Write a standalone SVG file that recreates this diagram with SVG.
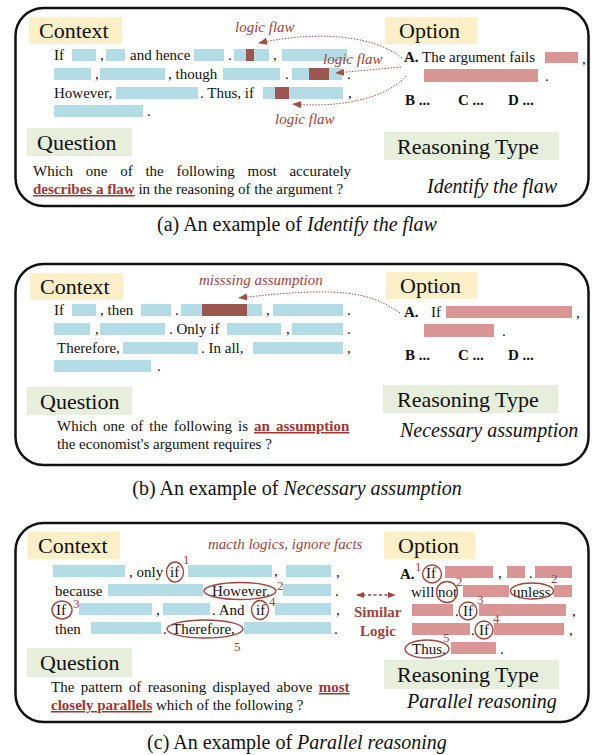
<svg xmlns="http://www.w3.org/2000/svg" width="594" height="755" viewBox="0 0 594 755" font-family="'Liberation Serif', 'Times New Roman', 'DejaVu Serif', serif">
<defs>
<style>
text{font-family:"Liberation Serif","Times New Roman","DejaVu Serif",serif;fill:#111}
.t{font-size:15px}
.bd{font-weight:bold}
.lbl{font-size:22px}
.it{font-style:italic}
.rt{font-size:20px;font-style:italic}
.cap{font-size:20px}
.red{fill:#A0443E}
.rl{font-size:15px;font-style:italic;fill:#A0443E}
.sup{font-size:13px;fill:#A0443E}
.ul{font-weight:bold;fill:#A0362F;text-decoration:underline}
.frame{fill:none;stroke:#111;stroke-width:2.5}
.yl{fill:#FDEFC8}
.gl{fill:#E7EFDC}
.b{fill:#B4DCE6}
.p{fill:#D99694}
.d{fill:#9C5650}
.c{fill:none;stroke:#A0443E;stroke-width:1.4}
.ar{fill:none;stroke:#A0504A;stroke-width:1;stroke-dasharray:1.5 1.5}
.ar2{fill:none;stroke:#A0443E;stroke-width:1.6;stroke-dasharray:3 2.5}
</style>
<marker id="ah" viewBox="0 0 10 10" refX="9" refY="5" markerWidth="9" markerHeight="9" orient="auto" markerUnits="userSpaceOnUse">
<path d="M0 1 L10 5 L0 9 Z" fill="#A0504A"/>
</marker>
<marker id="ah2" viewBox="0 0 10 10" refX="9" refY="5" markerWidth="8" markerHeight="8" orient="auto-start-reverse" markerUnits="userSpaceOnUse">
<path d="M0 1 L10 5 L0 9 Z" fill="#A0443E"/>
</marker>
</defs>

<!-- ===== Panel (a) ===== -->
<g id="panel-a">
<rect class="frame" x="15.5" y="8" width="573" height="198" rx="28"/>
<g id="a-context">
<rect class="yl" x="29" y="17" width="93" height="27"/>
<text class="lbl" x="39" y="38">Context</text>
<text class="t" x="54" y="60">If</text>
<rect class="b" x="72" y="49" width="24" height="12"/>
<text class="t" x="100" y="60">,</text>
<rect class="b" x="106" y="49" width="19" height="12"/>
<text class="t" x="130" y="60">and hence</text>
<rect class="b" x="194" y="49" width="30" height="12"/>
<text class="t" x="228" y="60">.</text>
<rect class="b" x="234" y="49" width="35" height="12"/>
<rect class="d" x="246" y="49" width="8" height="12"/>
<text class="t" x="273" y="60">,</text>
<rect class="b" x="282" y="49" width="65" height="12"/>
<rect class="b" x="54" y="68" width="37" height="12"/>
<text class="t" x="95" y="79">,</text>
<rect class="b" x="100" y="68" width="65" height="12"/>
<text class="t" x="168" y="79">, though</text>
<rect class="b" x="223" y="68" width="57" height="12"/>
<text class="t" x="285" y="79">.</text>
<rect class="b" x="292" y="68" width="50" height="12"/>
<rect class="d" x="309" y="68" width="20" height="12"/>
<text class="t" x="347" y="79">.</text>
<text class="t" x="54" y="98">However,</text>
<rect class="b" x="116" y="87" width="82" height="12"/>
<text class="t" x="200" y="98">. Thus, if</text>
<rect class="b" x="263" y="87" width="80" height="12"/>
<rect class="d" x="275" y="87" width="14" height="12"/>
<text class="t" x="348" y="98">,</text>
<rect class="b" x="54" y="105" width="89" height="12"/>
<text class="t" x="147" y="116">.</text>
<text class="rl" x="235" y="32">logic flaw</text>
<text class="rl" x="323" y="64">logic flaw</text>
<text class="rl" x="275" y="124">logic flaw</text>
</g>
<g id="a-option">
<rect class="yl" x="385" y="17" width="92" height="27"/>
<text class="lbl" x="399" y="38">Option</text>
<text class="t bd" x="404" y="62">A.</text>
<text class="t" x="422" y="62">The argument fails</text>
<rect class="p" x="545" y="52" width="33" height="11"/>
<text class="t" x="582" y="64">,</text>
<rect class="p" x="424" y="69" width="114" height="13"/>
<text class="t" x="545" y="81">.</text>
<text class="t bd" x="405" y="105">B ...</text>
<text class="t bd" x="458" y="105">C ...</text>
<text class="t bd" x="508" y="105">D ...</text>
</g>
<g id="a-question">
<rect class="gl" x="27" y="128" width="105" height="28"/>
<text class="lbl" x="37" y="150">Question</text>
<text class="t" x="33" y="176" word-spacing="9">Which one of the following most accurately</text>
<text class="t" x="33" y="194"><tspan class="ul">describes a flaw</tspan> in the reasoning of the argument ?</text>
</g>
<g id="a-type">
<rect class="gl" x="384" y="132" width="175" height="28"/>
<text class="lbl" x="397" y="154">Reasoning Type</text>
<text class="rt" x="427" y="193">Identify the flaw</text>
</g>
<text class="cap" x="297" y="231" text-anchor="middle">(a) An example of <tspan class="it">Identify the flaw</tspan></text>
</g>

<!-- ===== Panel (b) ===== -->
<g id="panel-b">
<rect class="frame" x="15.5" y="264" width="573" height="201" rx="28"/>
<g id="b-context">
<rect class="yl" x="30" y="273" width="93" height="27"/>
<text class="lbl" x="40" y="294">Context</text>
<text class="t" x="54" y="315">If</text>
<rect class="b" x="72" y="304" width="24" height="12"/>
<text class="t" x="100" y="315">, then</text>
<rect class="b" x="141" y="304" width="30" height="12"/>
<text class="t" x="175" y="315">.</text>
<rect class="b" x="181" y="304" width="81" height="12"/>
<rect class="d" x="202" y="304" width="45" height="12"/>
<text class="t" x="266" y="315">,</text>
<rect class="b" x="273" y="304" width="70" height="12"/>
<text class="t" x="347" y="315">.</text>
<rect class="b" x="54" y="323" width="36" height="12"/>
<text class="t" x="95" y="334">,</text>
<rect class="b" x="100" y="323" width="65" height="12"/>
<text class="t" x="169" y="334">. Only if</text>
<rect class="b" x="227" y="323" width="54" height="12"/>
<text class="t" x="286" y="334">,</text>
<rect class="b" x="292" y="323" width="51" height="12"/>
<text class="t" x="347" y="334">.</text>
<text class="t" x="57" y="353">Therefore,</text>
<rect class="b" x="123" y="342" width="75" height="12"/>
<text class="t" x="201" y="353">. In all,</text>
<rect class="b" x="253" y="342" width="90" height="12"/>
<text class="t" x="347" y="353">,</text>
<rect class="b" x="54" y="360" width="97" height="12"/>
<text class="t" x="157" y="371">.</text>
<text class="rl" x="199" y="285">misssing assumption</text>
</g>
<g id="b-option">
<rect class="yl" x="386" y="272" width="91" height="27"/>
<text class="lbl" x="400" y="293">Option</text>
<text class="t bd" x="404" y="317">A.</text>
<text class="t" x="431" y="317">If</text>
<rect class="p" x="446" y="306" width="126" height="12"/>
<text class="t" x="576" y="318">,</text>
<rect class="p" x="424" y="324" width="70" height="13"/>
<text class="t" x="502" y="336">.</text>
<text class="t bd" x="405" y="360">B ...</text>
<text class="t bd" x="458" y="360">C ...</text>
<text class="t bd" x="508" y="360">D ...</text>
</g>
<g id="b-question">
<rect class="gl" x="27" y="387" width="105" height="28"/>
<text class="lbl" x="40" y="409">Question</text>
<text class="t" x="57" y="431" word-spacing="2.3">Which one of the following is <tspan class="ul">an assumption</tspan></text>
<text class="t" x="57" y="449">the economist's argument requires ?</text>
</g>
<g id="b-type">
<rect class="gl" x="383" y="385" width="175" height="28"/>
<text class="lbl" x="397" y="407">Reasoning Type</text>
<text class="rt" x="400" y="437">Necessary assumption</text>
</g>
<text class="cap" x="297" y="495" text-anchor="middle">(b) An example of <tspan class="it">Necessary assumption</tspan></text>
</g>

<!-- ===== Panel (c) ===== -->
<g id="panel-c">
<rect class="frame" x="15.5" y="523" width="573" height="199" rx="28"/>
<g id="c-context">
<rect class="yl" x="28" y="532" width="92" height="27"/>
<text class="lbl" x="38" y="553">Context</text>
<text class="rl" x="208" y="549" font-size="14.5">macth logics, ignore facts</text>
<rect class="b" x="53" y="565" width="72" height="12"/>
<text class="t" x="129" y="577">, only</text>
<text class="t" x="170" y="577">if</text>
<ellipse class="c" cx="175" cy="572" rx="8.5" ry="10"/>
<text class="sup" x="183" y="564">1</text>
<rect class="b" x="188" y="565" width="84" height="12"/>
<text class="t" x="274" y="576">,</text>
<rect class="b" x="286" y="565" width="45" height="12"/>
<text class="t" x="336" y="577">,</text>
<text class="t" x="55" y="596">because</text>
<rect class="b" x="108" y="584" width="95" height="12"/>
<text class="t" x="212" y="596">However.</text>
<ellipse class="c" cx="240" cy="591" rx="36" ry="8.5"/>
<text class="sup" x="277" y="590">2</text>
<rect class="b" x="283" y="584" width="48" height="12"/>
<text class="t" x="335" y="596">.</text>
<text class="t" x="56" y="615">If</text>
<ellipse class="c" cx="62" cy="610" rx="10" ry="9"/>
<text class="sup" x="73" y="608">3</text>
<rect class="b" x="79" y="603" width="73" height="12"/>
<text class="t" x="156" y="615">,</text>
<rect class="b" x="163" y="603" width="47" height="12"/>
<text class="t" x="212" y="615">. And</text>
<text class="t" x="256" y="615">if</text>
<ellipse class="c" cx="260" cy="610" rx="8.5" ry="9.5"/>
<text class="sup" x="269" y="606">4</text>
<rect class="b" x="275" y="603" width="56" height="12"/>
<text class="t" x="336" y="615">,</text>
<text class="t" x="55" y="634">then</text>
<rect class="b" x="91" y="622" width="70" height="12"/>
<text class="t" x="163" y="634">.</text>
<text class="t" x="172" y="634">Therefore,</text>
<ellipse class="c" cx="205" cy="629" rx="38" ry="9"/>
<text class="sup" x="234" y="651">5</text>
<rect class="b" x="244" y="622" width="87" height="12"/>
<text class="t" x="334" y="634">.</text>
</g>
<g id="c-similar">
<text class="t bd red" x="354" y="617" font-size="14.5">Similar</text>
<text class="t bd red" x="360" y="636" font-size="14.5">Logic</text>
</g>
<g id="c-option">
<rect class="yl" x="384" y="532" width="91" height="27"/>
<text class="lbl" x="398" y="553">Option</text>
<text class="t bd" x="400" y="579">A.</text>
<text class="sup" x="415" y="571">1</text>
<text class="t" x="426" y="578">If</text>
<ellipse class="c" cx="432" cy="574" rx="9.5" ry="9"/>
<rect class="p" x="445" y="566" width="48" height="12"/>
<text class="t" x="498" y="578">,</text>
<rect class="p" x="507" y="566" width="18" height="12"/>
<text class="t" x="529" y="578">.</text>
<rect class="p" x="535" y="566" width="37" height="12"/>
<text class="sup" x="551" y="583">2</text>
<text class="t" x="411" y="597">will</text>
<text class="t" x="438" y="597">not</text>
<ellipse class="c" cx="447" cy="592" rx="10.5" ry="10.5"/>
<text class="sup" x="456" y="586">2</text>
<rect class="p" x="463" y="585" width="46" height="12"/>
<text class="t" x="513" y="597">unless</text>
<ellipse class="c" cx="532" cy="591" rx="21.5" ry="8"/>
<rect class="p" x="554" y="585" width="18" height="12"/>
<rect class="p" x="412" y="604" width="41" height="12"/>
<text class="t" x="455" y="616">.</text>
<text class="t" x="463" y="616">If</text>
<ellipse class="c" cx="468" cy="611" rx="9" ry="9"/>
<text class="sup" x="477" y="604">3</text>
<rect class="p" x="479" y="604" width="87" height="12"/>
<text class="t" x="572" y="616">,</text>
<rect class="p" x="412" y="623" width="58" height="12"/>
<text class="t" x="471" y="635">.</text>
<text class="t" x="479" y="635">If</text>
<ellipse class="c" cx="484" cy="630" rx="9" ry="9"/>
<text class="sup" x="493" y="623">4</text>
<rect class="p" x="494" y="623" width="70" height="12"/>
<text class="t" x="569" y="635">,</text>
<text class="t" x="412" y="654">Thus.</text>
<ellipse class="c" cx="427" cy="649" rx="22" ry="9"/>
<text class="sup" x="443" y="642">5</text>
<rect class="p" x="451" y="642" width="45" height="12"/>
<text class="t" x="500" y="654">.</text>
</g>
<g id="c-question">
<rect class="gl" x="27" y="648" width="105" height="29"/>
<text class="lbl" x="40" y="670">Question</text>
<text class="t" x="51" y="692" word-spacing="2.7">The pattern of reasoning displayed above <tspan class="ul">most</tspan></text>
<text class="t" x="51" y="710"><tspan class="ul">closely parallels</tspan> which of the following ?</text>
</g>
<g id="c-type">
<rect class="gl" x="384" y="660" width="175" height="29"/>
<text class="lbl" x="397" y="682">Reasoning Type</text>
<text class="rt" x="407" y="708">Parallel reasoning</text>
</g>
<text class="cap" x="297" y="749" text-anchor="middle">(c) An example of <tspan class="it">Parallel reasoning</tspan></text>
</g>

<!-- ===== Connectors ===== -->
<g id="connectors">
<path class="ar" d="M402 58 C375 36 320 30 259 43" marker-end="url(#ah)"/>
<path class="ar" d="M401 67 L336 73" marker-end="url(#ah)"/>
<path class="ar" d="M406 76 C385 100 335 108 293 104" marker-end="url(#ah)"/>
<path class="ar" d="M400 313 C370 292 340 286 239 298" marker-end="url(#ah)"/>
<path class="ar2" d="M357 595 L395 595" marker-start="url(#ah2)" marker-end="url(#ah2)"/>
</g>
</svg>
